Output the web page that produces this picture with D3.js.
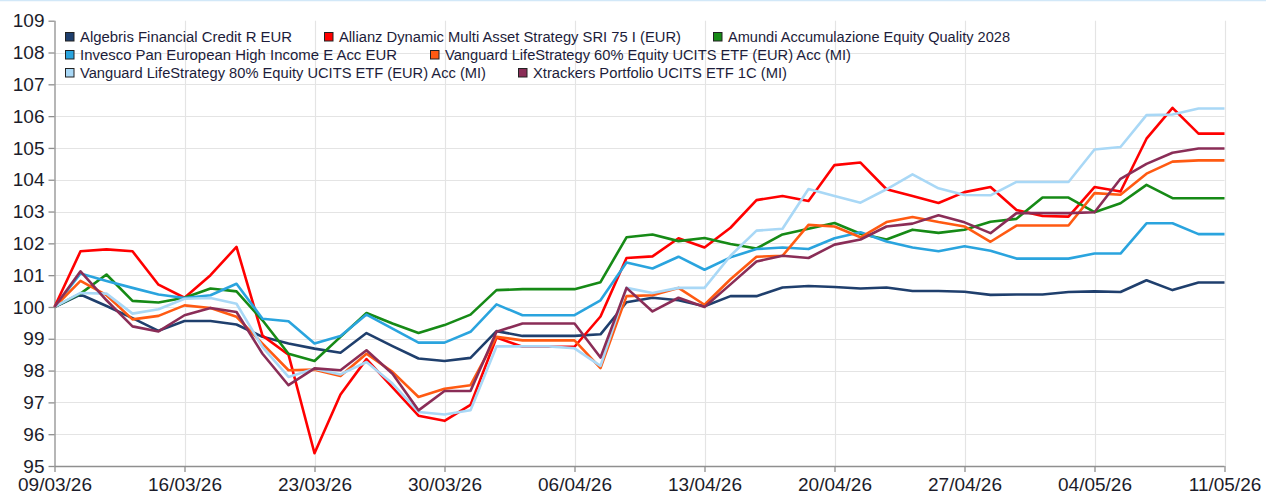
<!DOCTYPE html>
<html>
<head>
<meta charset="utf-8">
<script src="https://cdn.jsdelivr.net/npm/d3@7"></script>
<style>
html,body{margin:0;padding:0;background:#fff;}
svg{display:block;}
</style>
</head>
<body>
<svg id="chart" width="1266" height="495"></svg>
<script>
// ---------- DATA ----------
const dates = [
 "09/03/26","10/03/26","11/03/26","12/03/26","13/03/26",
 "16/03/26","17/03/26","18/03/26","19/03/26","20/03/26",
 "23/03/26","24/03/26","25/03/26","26/03/26","27/03/26",
 "30/03/26","31/03/26","01/04/26","02/04/26","03/04/26",
 "06/04/26","07/04/26","08/04/26","09/04/26","10/04/26",
 "13/04/26","14/04/26","15/04/26","16/04/26","17/04/26",
 "20/04/26","21/04/26","22/04/26","23/04/26","24/04/26",
 "27/04/26","28/04/26","29/04/26","30/04/26","01/05/26",
 "04/05/26","05/05/26","06/05/26","07/05/26","08/05/26",
 "11/05/26"];
const xTickLabels = ["09/03/26","16/03/26","23/03/26","30/03/26","06/04/26","13/04/26","20/04/26","27/04/26","04/05/26","11/05/26"];
const yTickValues = [95,96,97,98,99,100,101,102,103,104,105,106,107,108,109];

const seriesNames = [
 "Algebris Financial Credit R EUR",
 "Allianz Dynamic Multi Asset Strategy SRI 75 I (EUR)",
 "Amundi Accumulazione Equity Quality 2028",
 "Invesco Pan European High Income E Acc EUR",
 "Vanguard LifeStrategy 60% Equity UCITS ETF (EUR) Acc (MI)",
 "Vanguard LifeStrategy 80% Equity UCITS ETF (EUR) Acc (MI)",
 "Xtrackers Portfolio UCITS ETF 1C (MI)"];
const seriesColors = ["#1f3f6d","#ff0000","#168a16","#2aa4de","#ff5a12","#a9d8f6","#8a2d57"];

const algebris = [100,100.39,100.03,99.65,99.25,99.56,99.56,99.45,99.06,98.85,98.69,98.56,99.18,98.77,98.38,98.30,98.40,99.24,99.09,99.09,99.09,99.14,100.15,100.29,100.21,100.02,100.34,100.34,100.61,100.66,100.63,100.58,100.61,100.50,100.50,100.48,100.38,100.39,100.39,100.47,100.49,100.47,100.84,100.53,100.77,100.77];
const allianz = [100,101.75,101.81,101.75,100.70,100.29,101.0,101.89,99.1,98.5,95.4,97.25,98.36,97.47,96.58,96.42,96.92,99.04,98.75,98.75,98.75,99.70,101.54,101.59,102.16,101.87,102.49,103.36,103.49,103.33,104.46,104.54,103.70,103.49,103.27,103.61,103.77,103.05,102.86,102.84,103.77,103.63,105.29,106.26,105.45,105.45];
const amundi = [100,100.42,101.02,100.19,100.14,100.29,100.58,100.49,99.58,98.53,98.30,99.06,99.81,99.48,99.18,99.43,99.76,100.53,100.56,100.56,100.56,100.78,102.19,102.28,102.07,102.17,101.98,101.84,102.28,102.46,102.64,102.30,102.12,102.43,102.33,102.43,102.68,102.77,103.44,103.44,102.98,103.26,103.84,103.42,103.42,103.42];
const invesco = [100,101.05,100.82,100.60,100.39,100.28,100.37,100.73,99.63,99.55,98.85,99.09,99.76,99.32,98.88,98.88,99.22,100.08,99.74,99.74,99.74,100.21,101.40,101.21,101.58,101.17,101.56,101.82,101.87,101.82,102.16,102.35,102.06,101.87,101.75,101.91,101.77,101.52,101.52,101.52,101.68,101.68,102.63,102.63,102.29,102.29];
const vanguard60 = [100,100.82,100.37,99.61,99.72,100.05,99.97,99.69,98.85,98.01,98.03,97.83,98.53,97.96,97.17,97.43,97.54,99.06,98.95,98.95,98.95,98.08,100.34,100.37,100.60,100.07,100.87,101.58,101.61,102.58,102.53,102.19,102.67,102.83,102.67,102.53,102.05,102.56,102.56,102.56,103.58,103.53,104.19,104.57,104.61,104.61];
const vanguard80 = [100,100.44,100.42,99.79,99.93,100.26,100.28,100.10,98.74,97.80,98.06,97.88,98.27,97.59,96.70,96.62,96.75,98.76,98.76,98.76,98.70,98.15,100.60,100.44,100.60,100.60,101.61,102.40,102.46,103.71,103.49,103.28,103.70,104.17,103.73,103.52,103.51,103.93,103.93,103.93,104.95,105.03,106.03,106.05,106.24,106.24];
const xtrackers = [100,101.12,100.21,99.39,99.23,99.74,99.97,99.84,98.53,97.54,98.07,98.01,98.64,97.90,96.75,97.36,97.36,99.22,99.48,99.48,99.48,98.41,100.60,99.86,100.29,100.0,100.71,101.43,101.61,101.54,101.96,102.12,102.53,102.62,102.88,102.66,102.32,102.95,102.95,102.95,102.98,104.03,104.50,104.85,104.98,104.98];

const seriesValues = [algebris, allianz, amundi, invesco, vanguard60, vanguard80, xtrackers];

// ---------- LAYOUT ----------
const plot = {left: 54.5, right: 1224.5, top: 20.7, bottom: 466};
const legendLayout = [
 {x:65, y:37, w:212},{x:324, y:37, w:342},{x:713, y:37, w:282},
 {x:65, y:55, w:317},{x:430, y:55, w:406},
 {x:65, y:73, w:406},{x:518, y:73, w:254}];
const FONT = "'Liberation Sans', Arial, sans-serif";

const svg = d3.select("#chart");
svg.append("rect").attr("width",1266).attr("height",495).attr("fill","#fff");
svg.append("line").attr("x1",0).attr("x2",1266).attr("y1",0.5).attr("y2",0.5)
   .attr("stroke","#d2e8f8").attr("stroke-width",1.5);

const x = d3.scalePoint().domain(dates).range([plot.left, plot.right]);
const y = d3.scaleLinear().domain([95,109]).range([plot.bottom, plot.top]);

// gridlines
const grid = svg.append("g");
grid.selectAll("line.h").data(yTickValues.filter(v => v > 95 && v < 109)).join("line")
  .attr("x1", plot.left).attr("x2", plot.right)
  .attr("y1", d => Math.round(y(d))+0.5).attr("y2", d => Math.round(y(d))+0.5)
  .attr("stroke","#e4e4e4").attr("stroke-width",1.2);
grid.selectAll("line.v").data(xTickLabels.slice(1)).join("line")
  .attr("x1", d => Math.round(x(d))+0.5).attr("x2", d => Math.round(x(d))+0.5)
  .attr("y1", plot.top).attr("y2", plot.bottom)
  .attr("stroke","#e4e4e4").attr("stroke-width",1.2);

// axes
const yAxis = svg.append("g").attr("transform",`translate(${plot.left},0)`)
  .call(d3.axisLeft(y).tickValues(yTickValues).tickSize(6).tickPadding(4).tickFormat(d3.format("d")));
const xAxis = svg.append("g").attr("transform",`translate(0,${plot.bottom})`)
  .call(d3.axisBottom(x).tickValues(xTickLabels).tickSize(6).tickPadding(6));
[yAxis, xAxis].forEach(a => {
  a.select(".domain").attr("stroke","#8f8f8f").attr("stroke-width",1.3);
  a.selectAll(".tick line").attr("stroke","#8f8f8f").attr("stroke-width",1.3);
  a.selectAll(".tick text").attr("fill","#1c1c2a").style("font-family",FONT).style("font-size","19px");
});
xAxis.select(".domain").attr("d", `M${plot.left},0.5H${plot.right}`);
yAxis.select(".domain").attr("d", `M0.5,${plot.bottom}V${plot.top}`);

// lines
const line = d3.line().x((d,i) => x(dates[i])).y(d => y(d));
svg.append("g").selectAll("path").data(seriesValues).join("path")
  .attr("d", d => line(d))
  .attr("fill","none")
  .attr("stroke",(d,i) => seriesColors[i])
  .attr("stroke-width",2.6)
  .attr("stroke-linejoin","round");

// legend
const lg = svg.append("g");
seriesNames.forEach((name,i) => {
  const L = legendLayout[i];
  lg.append("rect").attr("x",L.x+0.5).attr("y",L.y-4.5).attr("width",8.5).attr("height",8.5)
    .attr("fill",seriesColors[i]).attr("stroke","#222").attr("stroke-width",1);
  lg.append("text").attr("x",L.x+15).attr("y",L.y+5)
    .attr("textLength",L.w).attr("lengthAdjust","spacingAndGlyphs")
    .style("font-family",FONT).style("font-size","14px").attr("fill","#1c1c3a")
    .text(name);
});
</script>
</body>
</html>
